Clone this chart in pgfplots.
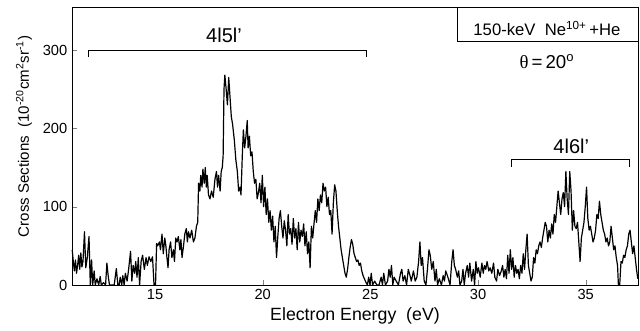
\documentclass[border=0pt]{standalone}
\usepackage{pgfplots}
\usepackage{pgfplotstable}
\pgfplotsset{compat=1.18}
\usepackage{fontspec}
\setmainfont{Liberation Sans}
\newfontfamily\serifgreek{Liberation Serif}

% Electron spectrum: energy (eV) and cross section (10^-20 cm^2 sr^-1)
\pgfplotstableread{
x y
11.15 45
11.2 30
11.25 18
11.3 32
11.35 15
11.4 25
11.45 38
11.5 20
11.55 41
11.6 23
11.65 30
11.72 68
11.78 22
11.85 35
11.93 62
11.99 0
12.05 32
12.1 0
12.17 18
12.22 0
12.3 8
12.38 0
12.45 11
12.5 0
12.6 3
12.7 0
12.76 28
12.82 12
12.88 0
13.0 0
13.1 0
13.2 21
13.27 0
13.33 0
13.38 10
13.45 0
13.5 12
13.56 0
13.62 15
13.7 5
13.77 20
13.86 43
13.92 5
13.98 25
14.05 15
14.1 30
14.16 10
14.22 35
14.28 0
14.35 30
14.42 38
14.5 20
14.58 35
14.64 25
14.72 36
14.8 30
14.88 36
14.95 0
15.02 0
15.07 53
15.12 50
15.2 55
15.25 45
15.32 65
15.38 40
15.45 60
15.5 50
15.55 35
15.6 22
15.65 45
15.72 55
15.78 35
15.85 45
15.9 30
15.96 60
16.02 55
16.08 62
16.15 45
16.2 58
16.25 35
16.32 50
16.38 65
16.45 72
16.5 55
16.55 68
16.62 60
16.7 70
16.78 55
16.85 60
16.92 75
16.98 80
17.02 130
17.08 120
17.12 140
17.18 125
17.22 148
17.28 130
17.33 150
17.38 125
17.42 140
17.48 115
17.55 110
17.62 120
17.7 112
17.78 135
17.85 145
17.9 125
17.95 140
18.02 120
18.07 145
18.12 150
18.16 165
18.2 250
18.24 268
18.3 250
18.36 230
18.42 265
18.48 240
18.54 215
18.6 205
18.68 185
18.75 160
18.82 145
18.88 120
18.94 125
18.99 115
19.05 165
19.1 198
19.16 175
19.22 190
19.28 210
19.32 175
19.38 190
19.44 165
19.5 170
19.56 145
19.62 130
19.68 135
19.74 110
19.8 118
19.86 130
19.92 105
19.98 140
20.04 100
20.1 125
20.16 90
20.22 110
20.28 80
20.34 95
20.4 70
20.46 88
20.52 55
20.58 75
20.64 35
20.7 62
20.76 85
20.82 95
20.88 75
20.94 60
21.0 82
21.06 70
21.12 50
21.18 90
21.24 65
21.3 72
21.36 52
21.42 85
21.48 60
21.54 72
21.6 45
21.66 80
21.72 55
21.78 70
21.84 62
21.9 78
21.96 50
22.02 68
22.08 40
22.14 55
22.2 22
22.26 75
22.32 60
22.38 78
22.44 95
22.5 80
22.56 110
22.62 95
22.68 115
22.74 105
22.8 130
22.86 120
22.92 125
22.98 100
23.04 112
23.1 90
23.16 95
23.22 65
23.28 105
23.34 128
23.4 120
23.46 95
23.52 75
23.58 60
23.64 45
23.7 35
23.76 25
23.82 15
23.88 10
23.94 20
24.0 35
24.06 48
24.12 58
24.18 52
24.24 40
24.3 35
24.36 30
24.42 32
24.48 25
24.54 28
24.6 18
24.66 12
24.72 8
24.8 3
24.86 0
24.92 10
24.98 0
25.04 15
25.1 0
25.2 5
25.3 0
25.4 0
25.5 10
25.56 0
25.62 15
25.7 0
25.8 5
25.86 20
25.92 10
25.98 25
26.04 0
26.1 10
26.2 5
26.3 0
26.4 15
26.46 20
26.52 5
26.6 12
26.68 0
26.76 20
26.84 12
26.9 5
27.0 18
27.08 5
27.16 10
27.24 30
27.3 55
27.36 25
27.42 35
27.5 5
27.58 0
27.65 20
27.72 45
27.78 38
27.85 20
27.92 30
28.0 5
28.06 20
28.12 0
28.2 8
28.3 0
28.38 12
28.44 5
28.5 18
28.6 10
28.7 0
28.78 30
28.84 45
28.9 25
28.96 20
29.04 10
29.1 18
29.16 0
29.24 5
29.3 20
29.36 0
29.42 15
29.5 25
29.56 10
29.62 28
29.7 5
29.78 20
29.84 0
29.9 30
29.96 15
30.02 22
30.1 10
30.18 28
30.24 15
30.3 25
30.36 20
30.42 30
30.5 18
30.56 22
30.64 15
30.72 28
30.78 10
30.86 5
30.92 20
31.0 12
31.08 18
31.14 25
31.2 10
31.26 20
31.32 8
31.38 38
31.44 15
31.5 45
31.56 20
31.62 35
31.68 10
31.74 25
31.8 15
31.86 20
31.92 8
31.98 25
32.04 15
32.1 40
32.16 20
32.22 45
32.28 65
32.34 25
32.4 15
32.46 5
32.52 10
32.58 35
32.64 28
32.7 45
32.76 40
32.82 50
32.88 55
32.94 48
33.0 60
33.06 70
33.12 80
33.18 75
33.24 55
33.3 70
33.36 60
33.42 78
33.48 65
33.54 90
33.6 80
33.66 100
33.72 120
33.78 105
33.84 90
33.9 110
33.96 118
34.02 100
34.08 145
34.14 110
34.2 90
34.26 145
34.32 120
34.38 70
34.44 95
34.5 75
34.56 72
34.62 80
34.68 55
34.74 30
34.8 60
34.86 70
34.92 80
34.98 100
35.04 125
35.1 85
35.16 70
35.22 75
35.28 65
35.34 55
35.4 60
35.46 70
35.52 90
35.58 85
35.64 107
35.7 90
35.76 80
35.82 70
35.88 65
35.94 55
36.0 60
36.06 50
36.12 55
36.18 75
36.24 60
36.3 45
36.36 50
36.42 35
36.48 25
36.52 0
36.58 0
36.64 30
36.7 28
36.76 38
36.82 35
36.88 45
36.94 50
37.0 65
37.06 70
37.12 55
37.18 40
37.24 50
37.3 35
37.36 20
37.42 8
}\spectrum

\begin{document}
\begin{tikzpicture}
\path[use as bounding box] (-54pt,-33.75pt) rectangle (426pt,213.75pt);
\begin{axis}[
  scale only axis,
  width=424.5pt, height=208.5pt,
  at={(0,0)}, anchor=south west,
  xmin=11.14, xmax=37.43,
  ymin=0, ymax=355,
  xtick={15,20,25,30,35},
  ytick={0,100,200,300},
  tick align=inside,
  xtick pos=bottom, ytick pos=left,
  major tick length=4pt,
  tick label style={font=\fontsize{11}{13}\selectfont},
  /pgf/number format/assume math mode=true,
  xlabel={Electron Energy \ (eV)},
  ylabel={Cross Sections \ (10\textsuperscript{-20}cm\textsuperscript{2}sr\textsuperscript{-1})},
  xlabel style={font=\fontsize{13.3}{15}\selectfont, at={(axis description cs:0.5,-0.112)}, anchor=center},
  ylabel style={font=\fontsize{11.3}{13}\selectfont, at={(axis description cs:-0.0848,0.535)}, anchor=center},
  clip=false,
]
\addplot[black, line width=0.9pt, line join=round, mark=none] table[x=x, y=y] {\spectrum};

% group brackets
\draw[line width=0.6pt] (axis cs:11.9,291) -- (axis cs:11.9,300) -- (axis cs:24.83,300) -- (axis cs:24.83,291);
\node[font=\fontsize{15}{17}\selectfont] at (axis cs:18.2,319) {4l5l'};
\draw[line width=0.6pt] (axis cs:31.54,151) -- (axis cs:31.54,160.5) -- (axis cs:37.05,160.5) -- (axis cs:37.05,151);
\node[font=\fontsize{15}{17}\selectfont] at (axis cs:34.33,177) {4l6l'};

% collision system box
\draw[line width=0.6pt] (axis cs:29.06,355) -- (axis cs:29.06,311.6) -- (axis cs:37.43,311.6);
\node[font=\fontsize{12.5}{15}\selectfont] at (axis cs:33.2,328) {150-keV \ Ne\textsuperscript{10+}\,+He};
\node[font=\fontsize{14}{16}\selectfont] at (axis cs:33.2,285) {{\serifgreek θ}\,=\,20\textsuperscript{o}};
\end{axis}
\end{tikzpicture}
\end{document}
